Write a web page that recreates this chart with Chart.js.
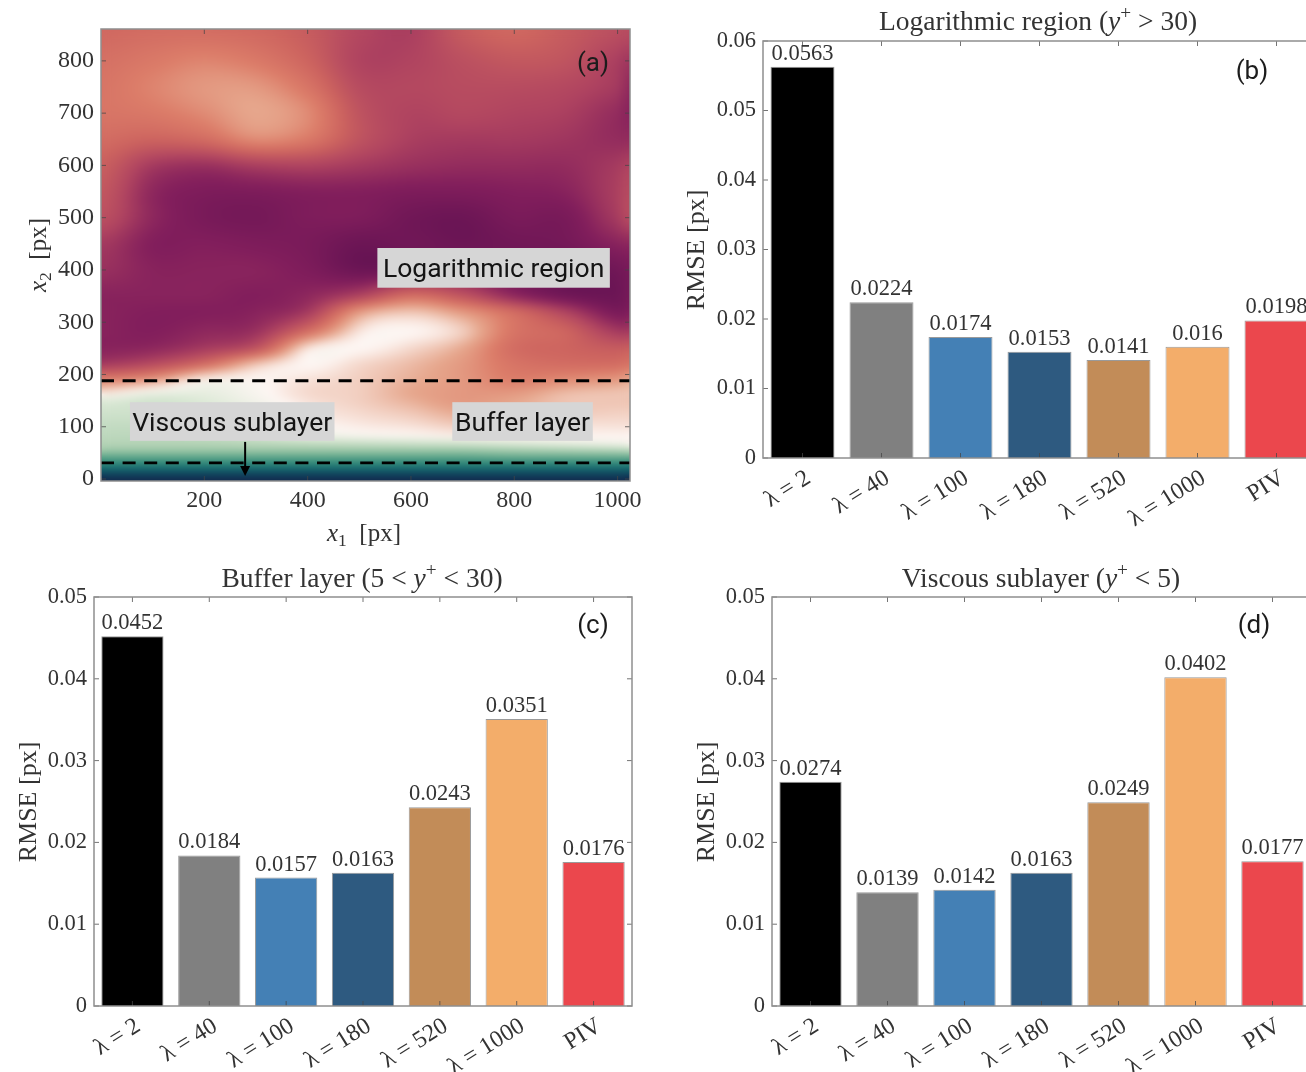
<!DOCTYPE html>
<html>
<head>
<meta charset="utf-8">
<title>RMSE by region</title>
<style>
  html, body { margin: 0; padding: 0; background: #fff; width: 1306px; height: 1072px; overflow: hidden; }
  canvas { position: absolute; filter: blur(0.4px); }
</style>
<script src="https://cdn.jsdelivr.net/npm/chart.js@4/dist/chart.umd.min.js"></script>
</head>
<body>
<canvas id="panelA" width="660" height="560" style="left:0;top:0"></canvas>
<canvas id="panelB" width="670" height="560" style="left:660px;top:0"></canvas>
<canvas id="panelC" width="660" height="512" style="left:0;top:560px"></canvas>
<canvas id="panelD" width="670" height="512" style="left:660px;top:560px"></canvas>
<script>
"use strict";

const categories = ["λ = 2", "λ = 40", "λ = 100", "λ = 180", "λ = 520", "λ = 1000", "PIV"];
const barColors = ["#000000", "#808080", "#4480b5", "#2e5a80", "#c28c58", "#f3ad6a", "#eb474d"];

const logRegionRmse = [0.0563, 0.0224, 0.0174, 0.0153, 0.0141, 0.016, 0.0198];
const bufferRmse = [0.0452, 0.0184, 0.0157, 0.0163, 0.0243, 0.0351, 0.0176];
const viscousRmse = [0.0274, 0.0139, 0.0142, 0.0163, 0.0249, 0.0402, 0.0177];

const ticksB = [0, 0.01, 0.02, 0.03, 0.04, 0.05, 0.06];
const ticksCD = [0, 0.01, 0.02, 0.03, 0.04, 0.05];
const ticksAX = [200, 400, 600, 800, 1000];
const ticksAY = [0, 100, 200, 300, 400, 500, 600, 700, 800];

const dashedLevels = [188, 31];

// field behind panel (a), 0 = navy, 0.5 = white, 1 = dark purple
const fieldX = [0, 100, 200, 300, 400, 500, 600, 700, 800, 900, 1000, 1024];
const fieldY = [861, 800, 750, 700, 650, 600, 550, 500, 450, 400, 350, 320, 283, 250, 220, 190, 165, 150, 130, 100, 80, 70, 57, 39, 31, 11, 0];
const fieldValues = [
  [.69, .68, .68, .69, .72, .77, .79, .72, .69, .72, .75, .76],
  [.67, .65, .63, .65, .70, .78, .78, .75, .73, .74, .79, .81],
  [.66, .63, .60, .60, .66, .76, .77, .76, .76, .77, .80, .84],
  [.66, .65, .62, .58, .62, .74, .78, .77, .78, .79, .83, .85],
  [.68, .70, .68, .62, .65, .74, .79, .80, .80, .81, .83, .83],
  [.71, .80, .82, .79, .78, .80, .82, .83, .83, .83, .80, .78],
  [.73, .84, .87, .87, .86, .86, .87, .87, .86, .85, .79, .76],
  [.75, .84, .88, .89, .87, .87, .90, .91, .88, .88, .80, .76],
  [.80, .86, .86, .87, .88, .91, .90, .91, .90, .89, .85, .84],
  [.82, .85, .85, .85, .87, .91, .90, .88, .90, .92, .90, .88],
  [.85, .85, .85, .86, .84, .78, .68, .74, .84, .90, .91, .88],
  [.85, .86, .86, .85, .80, .60, .55, .60, .68, .78, .88, .86],
  [.85, .86, .84, .82, .68, .52, .50, .54, .66, .70, .80, .80],
  [.85, .84, .80, .74, .52, .50, .53, .58, .68, .70, .72, .71],
  [.80, .76, .68, .55, .50, .53, .56, .60, .66, .68, .68, .66],
  [.64, .60, .50, .50, .52, .54, .57, .60, .64, .62, .60, .58],
  [.52, .47, .46, .49, .53, .54, .58, .60, .60, .56, .55, .55],
  [.44, .42, .44, .48, .52, .54, .57, .60, .58, .55, .55, .55],
  [.42, .42, .43, .46, .51, .53, .55, .58, .57, .55, .54, .54],
  [.40, .40, .42, .45, .49, .51, .52, .54, .54, .52, .52, .52],
  [.39, .39, .40, .42, .46, .48, .49, .50, .50, .50, .50, .50],
  [.38, .38, .38, .39, .40, .41, .42, .43, .45, .47, .49, .50],
  [.36, .36, .36, .36, .36, .36, .36, .36, .37, .38, .39, .40],
  [.27, .27, .27, .27, .27, .27, .27, .27, .28, .28, .28, .28],
  [.22, .22, .22, .22, .22, .22, .22, .22, .22, .22, .22, .22],
  [.10, .10, .10, .10, .10, .10, .10, .10, .10, .10, .10, .10],
  [.03, .03, .03, .03, .03, .03, .03, .03, .03, .03, .03, .03],
];

const paletteStops = [0, .08, .16, .27, .36, .44, .5, .58, .64, .7, .78, .86, .92, 1];
const paletteColors = [
  [21, 29, 68], [16, 62, 92], [17, 110, 112], [78, 158, 130], [168, 204, 172], [222, 234, 216],
  [253, 246, 243], [230, 166, 140], [220, 125, 105], [205, 100, 95], [176, 68, 96],
  [130, 30, 92], [104, 20, 84], [52, 13, 53],
];

const SERIF = '"Liberation Serif", serif';
const SANS = 'Roboto, "Liberation Sans", sans-serif';
const TEXT = "#333333";

function paletteAt(v) {
  let i = 0;
  while (i < paletteStops.length - 2 && v > paletteStops[i + 1]) i++;
  const t = Math.min(1, Math.max(0, (v - paletteStops[i]) / (paletteStops[i + 1] - paletteStops[i])));
  return paletteColors[i].map((c, k) => c + (paletteColors[i + 1][k] - c) * t);
}

function cubic(a, b, c, d, t) {
  return b + 0.5 * t * (c - a + t * (2 * a - 5 * b + 4 * c - d + t * (3 * (b - c) + d - a)));
}

function fieldAt(x, y) {
  let ix = 0;
  while (ix < fieldX.length - 2 && x > fieldX[ix + 1]) ix++;
  let iy = 0;
  while (iy < fieldY.length - 2 && y < fieldY[iy + 1]) iy++;
  const tx = Math.min(1, Math.max(0, (x - fieldX[ix]) / (fieldX[ix + 1] - fieldX[ix])));
  const ty = Math.min(1, Math.max(0, (fieldY[iy] - y) / (fieldY[iy] - fieldY[iy + 1])));
  const colAt = r => {
    const row = fieldValues[Math.min(fieldY.length - 1, Math.max(0, r))];
    const p = k => row[Math.min(fieldX.length - 1, Math.max(0, k))];
    return cubic(p(ix - 1), p(ix), p(ix + 1), p(ix + 2), tx);
  };
  return cubic(colAt(iy - 1), colAt(iy), colAt(iy + 1), colAt(iy + 2), ty);
}

// mixed roman / italic / sub / sup text, centred on (cx, cy)
function drawRich(ctx, parts, cx, cy, size, angle) {
  const fontOf = p => `${p.i ? "italic " : ""}${p.sub || p.sup ? size * 0.7 : size}px ${SERIF}`;
  let total = 0;
  parts.forEach(p => { ctx.font = fontOf(p); total += ctx.measureText(p.t).width; });
  ctx.save();
  ctx.translate(cx, cy);
  ctx.rotate(angle || 0);
  ctx.fillStyle = TEXT;
  ctx.textAlign = "left";
  ctx.textBaseline = "alphabetic";
  let x = -total / 2;
  parts.forEach(p => {
    ctx.font = fontOf(p);
    const dy = p.sub ? size * 0.2 : p.sup ? -size * 0.4 : 0;
    ctx.fillText(p.t, x, size * 0.32 + dy);
    x += ctx.measureText(p.t).width;
  });
  ctx.restore();
}

// box outline and inward ticks on all four sides
const framePlugin = {
  id: "frame",
  afterDatasetsDraw(chart) {
    const { ctx, chartArea: a, scales } = chart;
    ctx.save();
    ctx.strokeStyle = "rgba(70,70,70,0.75)";
    ctx.lineWidth = 1;
    ctx.beginPath();
    scales.x.ticks.forEach((t, i) => {
      const px = scales.x.getPixelForTick(i);
      ctx.moveTo(px, a.bottom); ctx.lineTo(px, a.bottom - 5);
      ctx.moveTo(px, a.top); ctx.lineTo(px, a.top + 5);
    });
    scales.y.ticks.forEach((t, i) => {
      const py = scales.y.getPixelForTick(i);
      ctx.moveTo(a.left, py); ctx.lineTo(a.left + 5, py);
      ctx.moveTo(a.right, py); ctx.lineTo(a.right - 5, py);
    });
    ctx.stroke();
    ctx.strokeStyle = "#8f8f8f";
    ctx.lineWidth = 1.5;
    ctx.strokeRect(a.left, a.top, a.right - a.left, a.bottom - a.top);
    ctx.restore();
  },
};

// value above each bar, titles, panel letter
const annotatePlugin = {
  id: "annotate",
  afterDraw(chart, args, o) {
    const { ctx } = chart;
    if (o.values) {
      const bars = chart.getDatasetMeta(0).data;
      ctx.save();
      ctx.font = `22.5px ${SERIF}`;
      ctx.fillStyle = TEXT;
      ctx.textAlign = "center";
      ctx.textBaseline = "alphabetic";
      bars.forEach((b, i) => ctx.fillText(String(o.values[i]), b.x, b.y - 7));
      ctx.restore();
    }
    (o.rich || []).forEach(r => drawRich(ctx, r.parts, r.x, r.y, r.size, r.angle));
    ctx.save();
    ctx.font = `26px ${SANS}`;
    ctx.fillStyle = "#1c1c1c";
    ctx.textAlign = "center";
    ctx.textBaseline = "middle";
    ctx.fillText(o.letter.text, o.letter.x, o.letter.y);
    ctx.restore();
  },
};

// panel (a) field drawn through the chart's scales
const fieldPlugin = {
  id: "field",
  beforeDatasetsDraw(chart) {
    const { ctx, chartArea: a, scales } = chart;
    const w = Math.round(a.right - a.left), h = Math.round(a.bottom - a.top);
    const off = document.createElement("canvas");
    off.width = w; off.height = h;
    const octx = off.getContext("2d");
    const img = octx.createImageData(w, h);
    for (let j = 0; j < h; j++) {
      const y = scales.y.getValueForPixel(a.top + j + 0.5);
      for (let i = 0; i < w; i++) {
        const c = paletteAt(fieldAt(scales.x.getValueForPixel(a.left + i + 0.5), y));
        const k = (j * w + i) * 4;
        img.data[k] = c[0]; img.data[k + 1] = c[1]; img.data[k + 2] = c[2]; img.data[k + 3] = 255;
      }
    }
    octx.putImageData(img, 0, 0);
    ctx.save();
    ctx.beginPath();
    ctx.rect(a.left, a.top, w, h);
    ctx.clip();
    ctx.drawImage(off, a.left, a.top);
    ctx.filter = "blur(4px)";
    ctx.drawImage(off, a.left, a.top);
    ctx.restore();
  },
  afterDatasetsDraw(chart) {
    const { ctx, scales } = chart;
    const X = v => scales.x.getPixelForValue(v), Y = v => scales.y.getPixelForValue(v);
    ctx.save();
    // arrow to the viscous sublayer
    ctx.strokeStyle = "#000"; ctx.fillStyle = "#000"; ctx.lineWidth = 2;
    ctx.beginPath(); ctx.moveTo(X(279), Y(71)); ctx.lineTo(X(279), Y(18)); ctx.stroke();
    ctx.beginPath(); ctx.moveTo(X(279), Y(6)); ctx.lineTo(X(279) - 5, Y(25)); ctx.lineTo(X(279) + 5, Y(25)); ctx.fill();
    // grey name boxes
    [["Logarithmic region", 535, 985, 442, 366], ["Viscous sublayer", 56, 452, 147, 73], ["Buffer layer", 680, 952, 147, 73]].forEach(b => {
      const x0 = X(b[1]), x1 = X(b[2]), y0 = Y(b[3]), y1 = Y(b[4]);
      ctx.fillStyle = "#d6d6d6";
      ctx.fillRect(x0, y0, x1 - x0, y1 - y0);
      ctx.fillStyle = "#141414";
      ctx.font = `26.5px ${SANS}`;
      ctx.textAlign = "center";
      ctx.textBaseline = "middle";
      ctx.fillText(b[0], (x0 + x1) / 2, (y0 + y1) / 2 + 3);
    });
    ctx.restore();
  },
};

function setTicks(list) {
  return s => { s.ticks = list.map(v => ({ value: v })); };
}

function axisBox(cfg) {
  return {
    autoPadding: false,
    padding: { left: 0, top: cfg.top, right: cfg.canvasW - cfg.right, bottom: 0 },
  };
}

function barPanel(id, cfg) {
  new Chart(document.getElementById(id), {
    type: "bar",
    data: {
      labels: categories,
      datasets: [{
        data: cfg.values,
        backgroundColor: barColors,
        borderColor: "rgba(30,30,30,0.45)",
        borderWidth: 1,
        categoryPercentage: 0.81,
        barPercentage: 1,
      }],
    },
    options: {
      responsive: false,
      animation: false,
      layout: axisBox(cfg),
      plugins: {
        legend: { display: false },
        tooltip: { enabled: false },
        annotate: { values: cfg.values, rich: cfg.rich, letter: cfg.letter },
      },
      scales: {
        x: {
          grid: { display: false, drawTicks: false },
          border: { display: false },
          afterFit: s => { s.height = cfg.canvasH - cfg.bottom; },
          ticks: {
            minRotation: 32, maxRotation: 32, autoSkip: false, padding: 6, labelOffset: 6,
            color: TEXT, font: { family: SERIF, size: 24 },
          },
        },
        y: {
          min: 0,
          max: cfg.max,
          grid: { display: false, drawTicks: false },
          border: { display: false },
          afterBuildTicks: setTicks(cfg.ticks),
          afterFit: s => { s.width = cfg.left; },
          ticks: {
            padding: 7,
            color: TEXT,
            font: { family: SERIF, size: 22.5 },
            callback: v => (v === 0 ? "0" : v.toFixed(2)),
          },
        },
      },
    },
    plugins: [framePlugin, annotatePlugin],
  });
}

const rmseParts = [{ t: "RMSE [px]" }];

// panel (a)
new Chart(document.getElementById("panelA"), {
  type: "scatter",
  data: {
    datasets: dashedLevels.map(level => ({
      data: [{ x: 0, y: level }, { x: 1024, y: level }],
      showLine: true,
      pointRadius: 0,
      borderColor: "#000",
      borderWidth: 2.8,
      borderDash: [13, 8.6],
    })),
  },
  options: {
    responsive: false,
    animation: false,
    layout: axisBox({ top: 29, right: 630, canvasW: 660 }),
    plugins: {
      legend: { display: false },
      tooltip: { enabled: false },
      annotate: {
        letter: { text: "(a)", x: 593, y: 64 },
        rich: [
          { parts: [{ t: "x", i: 1 }, { t: "1", sub: 1 }, { t: "  [px]" }], x: 364, y: 533, size: 25 },
          { parts: [{ t: "x", i: 1 }, { t: "2", sub: 1 }, { t: "  [px]" }], x: 38, y: 255, size: 25, angle: -Math.PI / 2 },
        ],
      },
    },
    scales: {
      x: {
        type: "linear",
        min: 0,
        max: 1024,
        grid: { display: false, drawTicks: false },
        border: { display: false },
        afterBuildTicks: setTicks(ticksAX),
        afterFit: s => { s.height = 560 - 481; },
        ticks: { padding: 5, maxRotation: 0, color: TEXT, font: { family: SERIF, size: 24 }, callback: v => String(v) },
      },
      y: {
        min: -3.8,
        max: 861,
        grid: { display: false, drawTicks: false },
        border: { display: false },
        afterBuildTicks: setTicks(ticksAY),
        afterFit: s => { s.width = 101; },
        ticks: { padding: 7, color: TEXT, font: { family: SERIF, size: 24 }, callback: v => String(v) },
      },
    },
  },
  plugins: [fieldPlugin, framePlugin, annotatePlugin],
});

barPanel("panelB", {
  values: logRegionRmse, ticks: ticksB, max: 0.06,
  left: 103, right: 656, top: 41, bottom: 458, canvasW: 670, canvasH: 560,
  letter: { text: "(b)", x: 592, y: 72 },
  rich: [
    { parts: [{ t: "Logarithmic region (" }, { t: "y", i: 1 }, { t: "+", sup: 1 }, { t: " > 30)" }], x: 378, y: 21, size: 27.5 },
    { parts: rmseParts, x: 36, y: 250, size: 26, angle: -Math.PI / 2 },
  ],
});

barPanel("panelC", {
  values: bufferRmse, ticks: ticksCD, max: 0.05,
  left: 94, right: 632, top: 37, bottom: 446, canvasW: 660, canvasH: 512,
  letter: { text: "(c)", x: 593, y: 66 },
  rich: [
    { parts: [{ t: "Buffer layer (5 < " }, { t: "y", i: 1 }, { t: "+", sup: 1 }, { t: " < 30)" }], x: 362, y: 18, size: 27.5 },
    { parts: rmseParts, x: 28, y: 242, size: 26, angle: -Math.PI / 2 },
  ],
});

barPanel("panelD", {
  values: viscousRmse, ticks: ticksCD, max: 0.05,
  left: 112, right: 651, top: 37, bottom: 446, canvasW: 670, canvasH: 512,
  letter: { text: "(d)", x: 594, y: 66 },
  rich: [
    { parts: [{ t: "Viscous sublayer (" }, { t: "y", i: 1 }, { t: "+", sup: 1 }, { t: " < 5)" }], x: 381, y: 18, size: 27.5 },
    { parts: rmseParts, x: 46, y: 242, size: 26, angle: -Math.PI / 2 },
  ],
});
</script>
</body>
</html>
